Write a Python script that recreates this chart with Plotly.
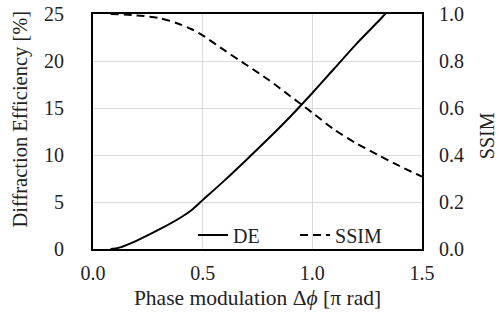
import plotly.graph_objects as go

de_x = [0.08, 0.12, 0.2, 0.3, 0.4, 0.45, 0.5, 0.6, 0.7, 0.8, 0.9, 1.0, 1.1, 1.2, 1.3, 1.34, 1.4, 1.5]
de_y = [0.0, 0.15, 0.9, 2.05, 3.35, 4.15, 5.2, 7.3, 9.5, 11.75, 14.1, 16.6, 19.2, 21.8, 24.2, 25.2, 26.6, 29.0]

ssim_x = [0.08, 0.2, 0.3, 0.38, 0.45, 0.5, 0.6, 0.7, 0.8, 0.9, 1.0, 1.1, 1.2, 1.3, 1.4, 1.5]
ssim_y = [1.0, 0.994, 0.983, 0.962, 0.935, 0.909, 0.845, 0.783, 0.72, 0.65, 0.58, 0.508, 0.45, 0.40, 0.352, 0.308]

x_ticks = [0.0, 0.5, 1.0, 1.5]
y1_ticks = [0, 5, 10, 15, 20, 25]
y2_ticks = [0.0, 0.2, 0.4, 0.6, 0.8, 1.0]

FONT = "Liberation Serif"
FS = 20
TXT = "#222222"

fig = go.Figure()
fig.add_trace(go.Scatter(x=de_x, y=de_y, mode="lines", name="DE",
                         line=dict(color="black", width=2, shape="spline", smoothing=0.8)))
fig.add_trace(go.Scatter(x=ssim_x, y=ssim_y, mode="lines", name="SSIM", yaxis="y2",
                         line=dict(color="black", width=2, dash="8px,5px", shape="spline", smoothing=0.8)))

axis_common = dict(showline=True, linecolor="black", linewidth=2, zeroline=False,
                   automargin=False, tickfont=dict(family=FONT, size=FS, color=TXT),
                   ticks="outside", tickcolor="rgba(0,0,0,0)")

fig.update_layout(
    width=499, height=323,
    margin=dict(l=93, r=77, t=14, b=74),
    paper_bgcolor="white", plot_bgcolor="white",
    font=dict(family=FONT, size=FS, color=TXT),
    showlegend=True,
    legend=dict(orientation="h", x=0.304, y=-0.023, xanchor="left", yanchor="bottom",
                bgcolor="rgba(0,0,0,0)", font=dict(family=FONT, size=FS, color=TXT),
                entrywidth=57, entrywidthmode="pixels", tracegroupgap=0),
    xaxis=dict(range=[0, 1.5], tickvals=x_ticks, ticktext=["%.1f" % v for v in x_ticks],
               showgrid=True, gridcolor="#d9d9d9", gridwidth=1, mirror=True,
               ticklen=5, ticklabelstandoff=0,
               title=dict(text="Phase modulation Δ<i>ϕ</i> [π rad]",
                          font=dict(family=FONT, size=21.5, color=TXT), standoff=7),
               **axis_common),
    yaxis=dict(range=[0, 25], tickvals=y1_ticks, showgrid=True, gridcolor="#d9d9d9", gridwidth=1,
               mirror=True, ticklen=13, ticklabelstandoff=10, **axis_common),
    yaxis2=dict(range=[0, 1.0], tickvals=y2_ticks, ticktext=["%.1f" % v for v in y2_ticks],
                overlaying="y", side="right", showgrid=False,
                ticklen=3, ticklabelstandoff=8, **axis_common),
    annotations=[
        dict(text="Diffraction Efficiency [%]", xref="paper", yref="paper",
             x=-0.219, y=0.555, xanchor="center", yanchor="middle", textangle=-90,
             showarrow=False, font=dict(family=FONT, size=20.5, color=TXT)),
        dict(text="SSIM", xref="paper", yref="paper",
             x=1.1976, y=0.48, xanchor="center", yanchor="middle", textangle=-90,
             showarrow=False, font=dict(family=FONT, size=FS, color=TXT)),
    ],
)

fig.write_html("out.html", config={"displayModeBar": False},
               post_script="document.body.style.margin='0';")
